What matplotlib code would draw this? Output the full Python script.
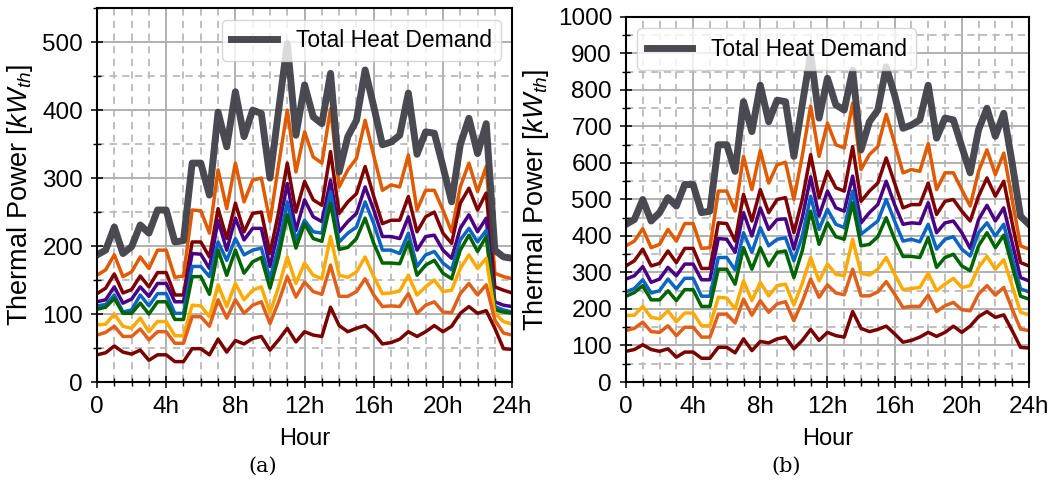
import matplotlib
matplotlib.use("Agg")
import matplotlib.pyplot as plt
from matplotlib.ticker import MultipleLocator

plt.rcParams['font.family'] = ['Liberation Sans', 'DejaVu Sans']
plt.rcParams['mathtext.fontset'] = 'custom'
plt.rcParams['mathtext.rm'] = 'Liberation Sans'
plt.rcParams['mathtext.it'] = 'Liberation Sans:italic'

# half-hourly time steps, 0h .. 24h
hours = [i * 0.5 for i in range(49)]
tick_pos = [0, 4, 8, 12, 16, 20, 24]
tick_labels = ['0', '4h', '8h', '12h', '16h', '20h', '24h']

# ---- panel (a) ----
a_total = [187, 194, 228, 189, 199, 231, 219, 253, 253, 206, 208, 322, 322, 275, 397, 346, 427,
           361, 400, 395, 300, 400, 498, 363, 437, 390, 380, 454, 309, 361, 385, 459, 405,
           349, 353, 363, 425, 335, 368, 366, 317, 265, 349, 388, 336, 380, 194, 184, 182]
a_orange = [157, 165, 187, 155, 162, 184, 167, 194, 194, 154, 156, 253, 252, 219, 312, 255, 322,
            265, 297, 300, 236, 320, 400, 309, 368, 331, 322, 402, 287, 312, 329, 385, 333,
            282, 290, 287, 334, 253, 282, 282, 253, 221, 287, 322, 280, 317, 160, 155, 152]
a_darkred = [130, 138, 159, 131, 136, 156, 140, 161, 161, 128, 128, 206, 206, 184, 255, 211, 263,
             221, 248, 250, 189, 250, 322, 250, 295, 268, 260, 339, 248, 265, 277, 317, 273,
             233, 238, 238, 273, 221, 243, 250, 219, 204, 263, 285, 253, 278, 140, 135, 131]
a_purple = [118, 121, 140, 116, 122, 140, 126, 145, 145, 118, 118, 189, 188, 167, 238, 194, 241,
            209, 226, 226, 170, 225, 292, 223, 268, 243, 236, 297, 221, 236, 248, 287, 253,
            214, 214, 211, 243, 194, 214, 216, 194, 182, 226, 246, 221, 241, 118, 113, 111]
a_blue = [112, 114, 128, 103, 106, 128, 112, 130, 130, 101, 101, 170, 170, 155, 206, 179, 211,
          187, 194, 197, 152, 200, 265, 209, 238, 221, 219, 280, 206, 219, 228, 265, 233,
          194, 194, 189, 219, 170, 187, 192, 175, 165, 209, 226, 206, 223, 111, 106, 103]
a_green = [107, 110, 123, 101, 101, 116, 100, 118, 118, 92, 92, 155, 155, 129, 194, 157, 194,
           160, 177, 183, 138, 185, 246, 197, 233, 211, 207, 263, 195, 198, 211, 241, 204,
           175, 175, 174, 206, 157, 172, 179, 160, 152, 194, 216, 192, 214, 106, 103, 101]
a_gold = [84, 85, 100, 82, 79, 94, 74, 89, 89, 68, 68, 113, 112, 96, 143, 111, 145,
          121, 135, 140, 102, 140, 184, 145, 175, 157, 152, 214, 157, 154, 162, 184, 155,
          130, 131, 134, 157, 128, 140, 150, 133, 135, 167, 187, 167, 182, 101, 89, 85]
a_orange2 = [69, 73, 82, 67, 67, 78, 62, 74, 74, 57, 57, 96, 96, 82, 121, 94, 121,
             101, 113, 118, 86, 118, 155, 125, 147, 133, 129, 172, 126, 126, 133, 152, 128,
             111, 112, 111, 130, 101, 113, 118, 103, 102, 130, 145, 128, 143, 91, 72, 69]
a_maroon = [40, 43, 53, 44, 41, 47, 32, 40, 40, 30, 30, 49, 49, 40, 63, 44, 61,
            56, 64, 67, 47, 62, 79, 59, 74, 69, 67, 110, 83, 74, 79, 83, 72,
            56, 58, 63, 74, 67, 74, 83, 74, 82, 101, 111, 101, 105, 79, 49, 48]

# ---- panel (b) ----
b_total = [432, 445, 500, 441, 464, 505, 482, 541, 541, 464, 468, 650, 650, 577, 768, 686, 813,
           713, 772, 768, 618, 760, 900, 723, 832, 759, 745, 854, 636, 713, 745, 863, 786,
           695, 704, 718, 813, 668, 723, 718, 645, 573, 691, 750, 673, 736, 600, 454, 432]
b_orange = [373, 386, 420, 368, 377, 418, 386, 434, 434, 366, 368, 523, 523, 468, 618, 527, 634,
            545, 595, 602, 500, 620, 756, 618, 709, 650, 641, 764, 582, 623, 645, 733, 654,
            573, 582, 577, 653, 527, 573, 573, 527, 482, 577, 636, 568, 627, 500, 373, 364]
b_darkred = [318, 332, 364, 318, 325, 359, 327, 366, 366, 311, 311, 436, 434, 386, 514, 441, 527,
             464, 500, 505, 409, 500, 623, 505, 577, 532, 523, 645, 495, 523, 545, 614, 545,
             477, 486, 486, 545, 459, 495, 500, 468, 441, 509, 559, 509, 550, 436, 327, 318]
b_purple = [282, 291, 316, 273, 282, 314, 291, 323, 323, 280, 280, 393, 391, 355, 464, 400, 477,
            418, 445, 447, 364, 450, 562, 455, 523, 477, 468, 564, 436, 464, 486, 550, 486,
            432, 436, 434, 491, 409, 436, 441, 409, 366, 445, 484, 441, 477, 382, 286, 277]
b_blue = [247, 256, 280, 244, 250, 282, 255, 284, 284, 235, 235, 341, 341, 307, 409, 355, 423,
          373, 391, 395, 332, 400, 509, 418, 473, 432, 423, 523, 405, 423, 441, 500, 441,
          386, 391, 384, 432, 364, 391, 398, 364, 345, 409, 436, 400, 432, 341, 255, 247]
b_green = [235, 245, 264, 225, 225, 250, 223, 253, 253, 207, 207, 309, 309, 268, 368, 309, 368,
           318, 355, 359, 286, 360, 468, 377, 436, 398, 391, 491, 373, 377, 398, 450, 391,
           344, 344, 341, 395, 314, 341, 350, 318, 305, 373, 409, 368, 402, 318, 235, 227]
b_gold = [182, 183, 207, 177, 173, 195, 165, 189, 189, 154, 154, 232, 230, 200, 277, 223, 273,
          236, 264, 268, 211, 270, 341, 277, 323, 295, 291, 391, 298, 293, 309, 341, 295,
          253, 256, 259, 298, 250, 268, 284, 259, 264, 314, 344, 309, 335, 264, 191, 184]
b_orange2 = [141, 147, 164, 138, 136, 154, 127, 150, 150, 123, 123, 186, 186, 162, 227, 183, 223,
             191, 214, 220, 168, 220, 282, 232, 266, 244, 239, 309, 236, 236, 247, 275, 241,
             204, 207, 207, 238, 193, 209, 218, 198, 195, 241, 264, 238, 259, 200, 145, 141]
b_maroon = [84, 89, 102, 89, 84, 91, 68, 82, 82, 65, 65, 95, 95, 80, 118, 86, 111,
            107, 118, 123, 91, 114, 144, 114, 136, 127, 123, 193, 147, 138, 144, 153, 132,
            109, 114, 123, 136, 125, 136, 153, 136, 153, 179, 193, 177, 184, 141, 95, 93]

line_colors = ['#e05a00', '#7e0000', '#4b0082', '#0a66c2', '#006400', '#ffaa00', '#e0601a', '#7a0000']
total_color = '#40404a'

panels = [
    (a_total, [a_orange, a_darkred, a_purple, a_blue, a_green, a_gold, a_orange2, a_maroon],
     550, 'upper right', '(a)'),
    (b_total, [b_orange, b_darkred, b_purple, b_blue, b_green, b_gold, b_orange2, b_maroon],
     1000, 'upper left', '(b)'),
]
axes_pos = [[0.0923, 0.2204, 0.395, 0.763], [0.5956, 0.2204, 0.3834, 0.745]]
caption_x = [0.25, 0.748]

fig = plt.figure(figsize=(10.51, 4.9), dpi=100)

for (total, comps, ymax, legloc, cap), pos, cx in zip(panels, axes_pos, caption_x):
    ax = fig.add_axes(pos)
    for vals, c in zip(comps, line_colors):
        ax.plot(hours, vals, color=c, lw=2.5)
    ax.plot(hours, total, color=total_color, lw=5, alpha=0.95, label='Total Heat Demand')

    ax.set_xlim(0, 24)
    ax.set_ylim(0, ymax)
    ax.set_xticks(tick_pos)
    ax.set_xticklabels(tick_labels)
    ax.xaxis.set_minor_locator(MultipleLocator(1))
    ax.yaxis.set_major_locator(MultipleLocator(100))
    ax.yaxis.set_minor_locator(MultipleLocator(50))

    ax.grid(which='major', color='#b0b0b0', lw=1.4, ls='-')
    ax.grid(which='minor', color='#bababa', lw=1.3, ls=(0, (4, 3)))
    ax.set_axisbelow(True)

    ax.tick_params(which='major', direction='inout', length=8, width=1.1, labelsize=17.5, pad=6)
    ax.tick_params(which='minor', direction='inout', length=6, width=1.0)
    for s in ax.spines.values():
        s.set_linewidth(1.5)

    ax.set_xlabel('Hour', fontsize=17, labelpad=7)
    ax.set_ylabel(r'Thermal Power [$kW_{th}$]', fontsize=19.5, labelpad=5)
    ax.legend(loc=legloc, fontsize=16.5, handlelength=2.0, borderaxespad=0.5)

    fig.text(cx, 0.049, cap, ha='center', va='center', fontsize=15, family='DejaVu Serif')

fig.savefig('out.png', dpi=100)
